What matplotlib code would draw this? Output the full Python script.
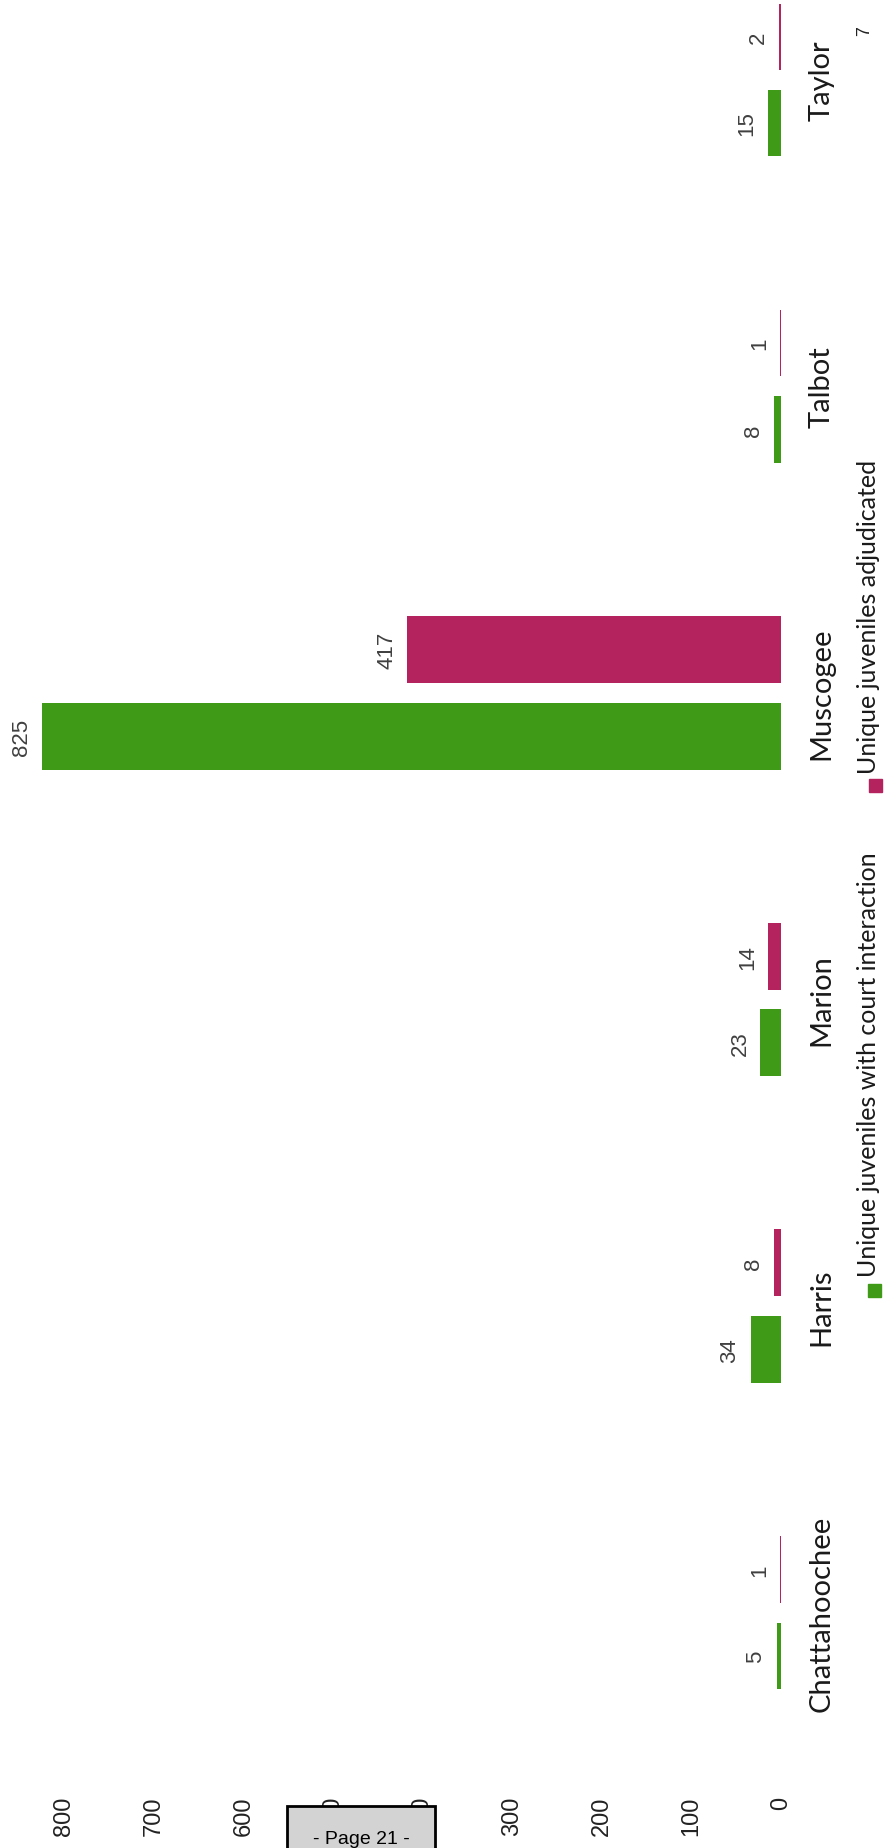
import matplotlib
matplotlib.use("Agg")
import matplotlib.pyplot as plt
from matplotlib.patches import Rectangle

# ---------------- data ----------------
counties = ["Chattahoochee", "Harris", "Marion", "Muscogee", "Talbot", "Taylor"]
court_interaction = [5, 34, 23, 825, 8, 15]
adjudicated = [1, 8, 14, 417, 1, 2]
value_ticks = [0, 100, 200, 300, 400, 500, 600, 700, 800]
series_names = ["Unique juveniles with court interaction", "Unique juveniles adjudicated"]
page_label = "- Page 21 -"
page_number = "7"

GREEN = "#3f9b17"
MAGENTA = "#b4235e"

W, H = 891, 1849
fig = plt.figure(figsize=(W / 100, H / 100), dpi=100)
fig.patch.set_facecolor("white")


def fx(x):
    return x / W


def fy(y):
    return 1 - y / H


# axes in pixel layout (left, top, right, bottom)
L, T, R, B = 19.4, 5, 781, 1767
ax = fig.add_axes([fx(L), fy(B), (R - L) / W, (B - T) / H])
ax.set_facecolor("none")

idx = list(range(len(counties)))
bar_h = 0.218
off = 0.141
y_green = [i - off for i in idx]
y_mag = [i + off for i in idx]
ax.barh(y_green, court_interaction, height=bar_h, color=GREEN)
ax.barh(y_mag, adjudicated, height=bar_h, color=MAGENTA)

ax.set_xlim(850, 0)
ax.set_ylim(-0.5, -0.5 + (B - T) / 306.6)

for s in ax.spines.values():
    s.set_visible(False)

ax.set_xticks(value_ticks)
ax.set_xticklabels([str(v) for v in value_ticks], rotation=90,
                   fontsize=17, family="Liberation Sans", color="#222222")
ax.tick_params(axis="x", length=0, pad=21.5)

ax.yaxis.set_ticks_position("right")
ax.set_yticks(idx)
ax.set_yticklabels(counties, rotation=90, va="center",
                   fontsize=21, family="Lato", color="#1a1a1a")
ax.tick_params(axis="y", length=0, pad=20)

for yy, v in zip(y_green + y_mag, court_interaction + adjudicated):
    ax.annotate(str(v), xy=(v, yy), xytext=(-10, 0), textcoords="offset pixels",
                rotation=90, ha="right", va="center", fontsize=16,
                family="Liberation Sans", color="#404040")

# legend drawn manually (rotated)
sq = 13
for (cx, cy, txt_start, col, name) in [
    (874, 1291.5, 1277, GREEN, series_names[0]),
    (875, 786.5, 774, MAGENTA, series_names[1]),
]:
    fig.add_artist(Rectangle((fx(cx - sq / 2), fy(cy + sq / 2)), sq / W, sq / H,
                             transform=fig.transFigure, color=col))
    fig.text(fx(869), fy(txt_start), name, rotation=90, ha="center", va="bottom",
             fontsize=18, family="Lato", color="#1a1a1a")

# page number
fig.text(fx(865), fy(31), page_number, rotation=90, ha="center", va="center",
         fontsize=13, family="Liberation Sans", color="#222222")

# page footer box overlaying the tick labels
fig.add_artist(Rectangle((fx(287), fy(1860)), (435 - 287) / W, (1860 - 1807) / H,
                         transform=fig.transFigure, facecolor="#d3d3d3",
                         edgecolor="black", linewidth=2, zorder=10))
fig.text(fx(361), fy(1831), page_label, ha="center", va="top", fontsize=14,
         family="Liberation Sans", color="black", zorder=11)

fig.savefig("out.png", dpi=100, facecolor="white")
